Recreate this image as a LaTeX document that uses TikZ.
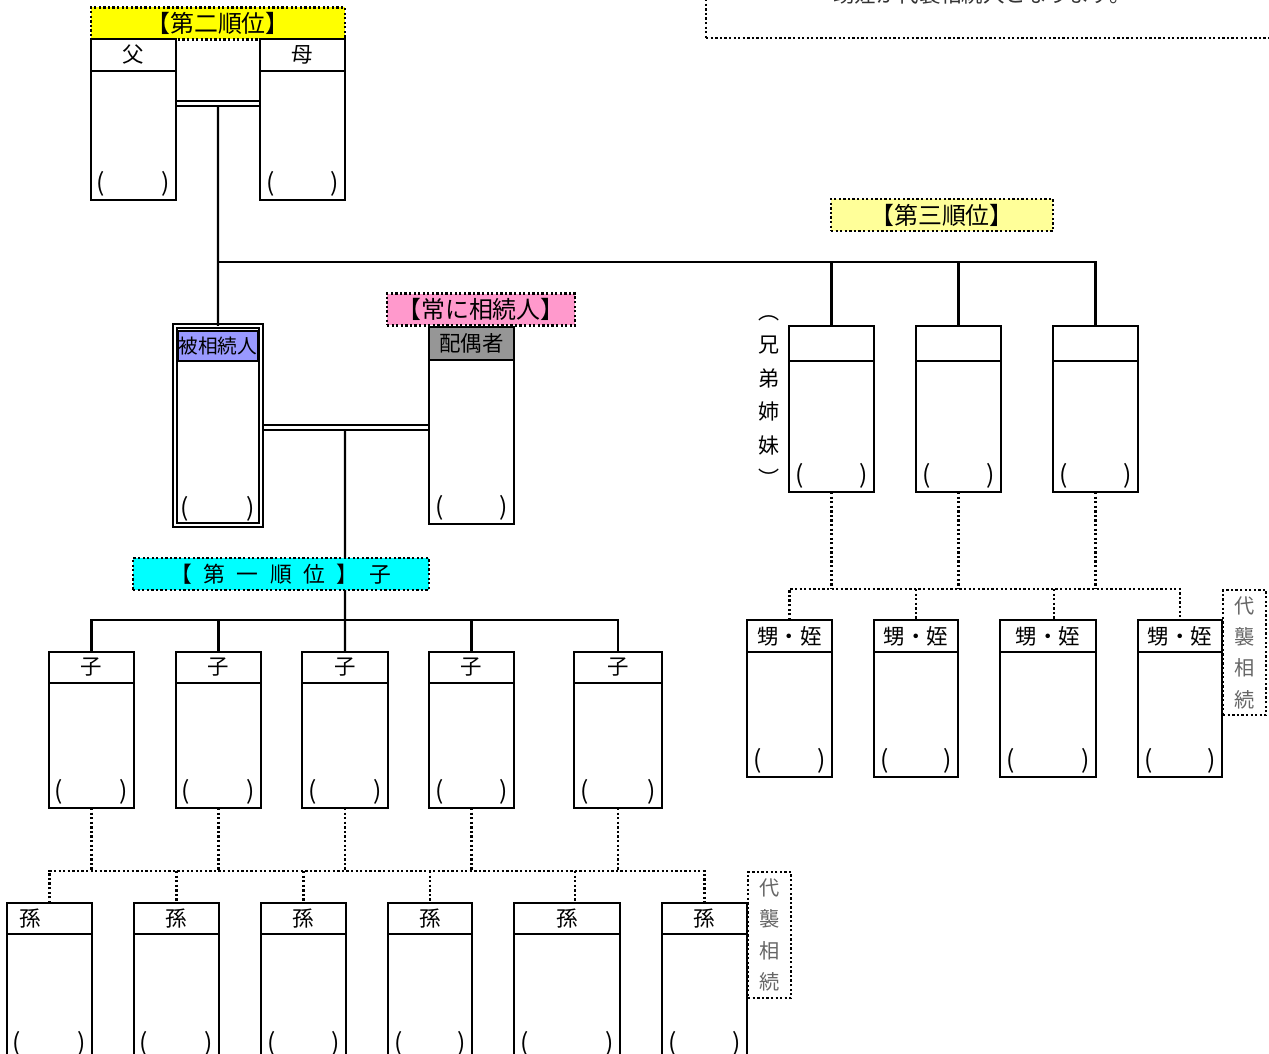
\documentclass[tikz,border=0pt]{standalone}
\usepackage{fontspec}
\setmainfont{Noto Sans CJK JP}

\definecolor{rankone}{HTML}{00FFFF}
\definecolor{ranktwo}{HTML}{FFFF00}
\definecolor{rankthree}{HTML}{FFFF99}
\definecolor{always}{HTML}{FF99CC}
\definecolor{heirblue}{HTML}{9999FF}
\definecolor{spgray}{HTML}{969696}

\newcommand{\hdfont}{\fontsize{12.2pt}{14pt}\selectfont}
\newcommand{\lbfont}{\fontsize{13.6pt}{15pt}\selectfont}
\newcommand{\pfont}{\fontsize{14pt}{16pt}\selectfont}
\newcommand{\vtfont}{\fontsize{11.5pt}{17.9pt}\selectfont}
\newcommand{\vsfont}{\fontsize{12pt}{19.1pt}\selectfont}
\newcommand{\sgap}{\hspace{0.23cm}}

\begin{document}
\begin{tikzpicture}[
    x=0.02cm, y=-0.02cm,
    link/.style={line width=1.35pt},
    dlink/.style={line width=1.3pt, dash pattern=on 1.3pt off 1.3pt},
    marriage/.style={line width=1.2pt, double=white, double distance=1.5pt, shorten <=0.7pt, shorten >=0.7pt},
    rank/.style={rectangle, draw, dlink, inner sep=0pt, minimum height=0.64cm, font=\lbfont},
    head/.style={rectangle, draw, line width=1.35pt, fill=white, anchor=north west, inner sep=0pt, outer sep=0pt, minimum width=1.7cm, minimum height=0.64cm, font=\hdfont},
    body/.style={rectangle, draw, line width=1.35pt, fill=white, anchor=north west, inner xsep=0.12cm, inner ysep=0.06cm, outer sep=0pt, text width=1.46cm, text height=#1, text depth=0.1cm, font=\pfont},
    body/.default=2.28cm,
    heir/.style={body=3.76cm, text width=1.48cm, line width=1pt, double=white, double distance=1.2pt},
    daishu/.style={rectangle, draw, dlink, anchor=north west, inner sep=0pt, minimum width=0.86cm, minimum height=2.5cm, align=center, text=black!60, font=\vtfont}
]
\useasboundingbox (0,0) rectangle (1269,1054);

% Note (top right)
\node[rectangle, draw, dlink, anchor=south west, minimum width=12cm, minimum height=1.5cm] (note) at (705,39) {};
\node[anchor=base west, inner sep=0pt, text=black!80, font=\hdfont] (notetxt) at (833,3) {甥姪が代襲相続人となります。};

% Second rank: parents
\node[rank, fill=ranktwo, minimum width=5.08cm] (rank2) at (218,23.5) {【第二順位】};
\node[head] (fah) at (91,39) {父};
\node[body=2.36cm] (fa) at (fah.south west) {(\hfill)};
\node[head] (moh) at (260,39) {母};
\node[body=2.36cm] (mo) at (moh.south west) {(\hfill)};

% Decedent
\node[heir] (dec) at (175,326) {(\hfill)};
\node[head, fill=heirblue, anchor=north, minimum width=1.62cm, minimum height=0.6cm, font=\fontsize{11.2pt}{13pt}\selectfont] (dech) at ([yshift=-0.1cm]dec.north) {被相続人};

% Spouse
\node[rank, fill=always, minimum width=3.76cm] (rank0) at (481,309.5) {【常に相続人】};
\node[head, fill=spgray, minimum height=0.66cm] (spoh) at (429,327) {配偶者};
\node[body=3.06cm] (spo) at (spoh.south west) {(\hfill)};

% Third rank: siblings
\node[rank, fill=rankthree, minimum width=4.44cm] (rank3) at (942,215) {【第三順位】};
\node[align=center, font=\vsfont] (sibtxt) at (769,401) {︵\\兄\\弟\\姉\\妹\\︶};
\node[head, minimum height=0.7cm] (s1h) at (789,326) {};
\node[body=2.40cm] (s1) at (s1h.south west) {(\hfill)};
\node[head, minimum height=0.7cm] (s2h) at (916,326) {};
\node[body=2.40cm] (s2) at (s2h.south west) {(\hfill)};
\node[head, minimum height=0.7cm] (s3h) at (1053,326) {};
\node[body=2.40cm] (s3) at (s3h.south west) {(\hfill)};

% Nephews and nieces
\node[daishu] (dai1) at (1222,589) {代\\襲\\相\\続};
\node[head] (n1h) at (747,620) {甥・姪};
\node[body] (n1) at (n1h.south west) {(\hfill)};
\node[head, minimum width=1.68cm] (n2h) at (874,620) {甥・姪};
\node[body, text width=1.44cm] (n2) at (n2h.south west) {(\hfill)};
\node[head, minimum width=1.92cm] (n3h) at (1000,620) {甥・姪};
\node[body, text width=1.68cm] (n3) at (n3h.south west) {(\hfill)};
\node[head, minimum width=1.68cm] (n4h) at (1138,620) {甥・姪};
\node[body, text width=1.44cm] (n4) at (n4h.south west) {(\hfill)};

% First rank: children
\node[head, minimum height=0.62cm] (c1h) at (49,652) {子};
\node[body] (c1) at (c1h.south west) {(\hfill)};
\node[head, minimum height=0.62cm] (c2h) at (176,652) {子};
\node[body] (c2) at (c2h.south west) {(\hfill)};
\node[head, minimum height=0.62cm, minimum width=1.72cm] (c3h) at (302,652) {子};
\node[body, text width=1.48cm] (c3) at (c3h.south west) {(\hfill)};
\node[head, minimum height=0.62cm] (c4h) at (429,652) {子};
\node[body] (c4) at (c4h.south west) {(\hfill)};
\node[head, minimum height=0.62cm, minimum width=1.76cm] (c5h) at (574,652) {子};
\node[body, text width=1.52cm] (c5) at (c5h.south west) {(\hfill)};

% Grandchildren
\node[daishu, minimum height=2.52cm] (dai2) at (747,871) {代\\襲\\相\\続};
\node[head, minimum height=0.62cm] (g1h) at (7,903) {\makebox[1.2cm][l]{孫}};
\node[body=2.30cm] (g1) at (g1h.south west) {(\hfill)};
\node[head, minimum height=0.62cm] (g2h) at (134,903) {孫};
\node[body=2.30cm] (g2) at (g2h.south west) {(\hfill)};
\node[head, minimum height=0.62cm] (g3h) at (261,903) {孫};
\node[body=2.30cm] (g3) at (g3h.south west) {(\hfill)};
\node[head, minimum height=0.62cm, minimum width=1.68cm] (g4h) at (388,903) {孫};
\node[body=2.30cm, text width=1.44cm] (g4) at (g4h.south west) {(\hfill)};
\node[head, minimum height=0.62cm, minimum width=2.12cm] (g5h) at (514,903) {孫};
\node[body=2.30cm, text width=1.88cm] (g5) at (g5h.south west) {(\hfill)};
\node[head, minimum height=0.62cm] (g6h) at (662,903) {孫};
\node[body=2.30cm] (g6) at (g6h.south west) {(\hfill)};

% Parents to decedent
\coordinate (pm) at (218,103.5);
\draw[link] (pm) -- (dec.north);
\draw[marriage] (fa.east |- pm) -- (mo.west |- pm);

% Decedent and spouse to children
\coordinate (dm) at (345,427.5);
\draw[link] (dm) -- (c3h.north);
\draw[marriage, shorten <=1.8pt] (dec.east |- dm) -- (spo.west |- dm);
\node[rank, fill=rankone, minimum width=5.92cm, font=\fontsize{12.4pt}{14pt}\selectfont] (rank1) at (281,574) {【\sgap 第\sgap 一\sgap 順\sgap 位\sgap 】\sgap 子};

\coordinate (kids) at (345,620);
\draw[link] (c1h.north) -- (c1h.north |- kids) -- (c5h.north |- kids) -- (c5h.north);
\draw[link] (c2h.north |- kids) -- (c2h.north);
\draw[link] (c4h.north |- kids) -- (c4h.north);

% Parents to siblings
\coordinate (sib) at (218,262);
\draw[link] (sib) -| (s3h.north);
\draw[link] (s1h.north |- sib) -- (s1h.north);
\draw[link] (s2h.north |- sib) -- (s2h.north);

% Siblings to nephews and nieces (dotted)
\coordinate (nn) at (958,589);
\draw[dlink] (s1.south) -- (s1.south |- nn);
\draw[dlink] (s2.south) -- (s2.south |- nn);
\draw[dlink] (s3.south) -- (s3.south |- nn);
\draw[dlink] (n1h.north) -- (n1h.north |- nn) -- (n4h.north |- nn) -- (n4h.north);
\draw[dlink] (n2h.north |- nn) -- (n2h.north);
\draw[dlink] ([xshift=0.12cm]n3h.north |- nn) -- ([xshift=0.12cm]n3h.north);

% Children to grandchildren (dotted)
\coordinate (gk) at (345,871);
\draw[dlink] (c1.south) -- (c1.south |- gk);
\draw[dlink] (c2.south) -- (c2.south |- gk);
\draw[dlink] (c3.south) -- (c3.south |- gk);
\draw[dlink] (c4.south) -- (c4.south |- gk);
\draw[dlink] (c5.south) -- (c5.south |- gk);
\draw[dlink] (g1h.north) -- (g1h.north |- gk) -- (g6h.north |- gk) -- (g6h.north);
\draw[dlink] (g2h.north |- gk) -- (g2h.north);
\draw[dlink] (g3h.north |- gk) -- (g3h.north);
\draw[dlink] (g4h.north |- gk) -- (g4h.north);
\draw[dlink] ([xshift=0.16cm]g5h.north |- gk) -- ([xshift=0.16cm]g5h.north);

\end{tikzpicture}
\end{document}
